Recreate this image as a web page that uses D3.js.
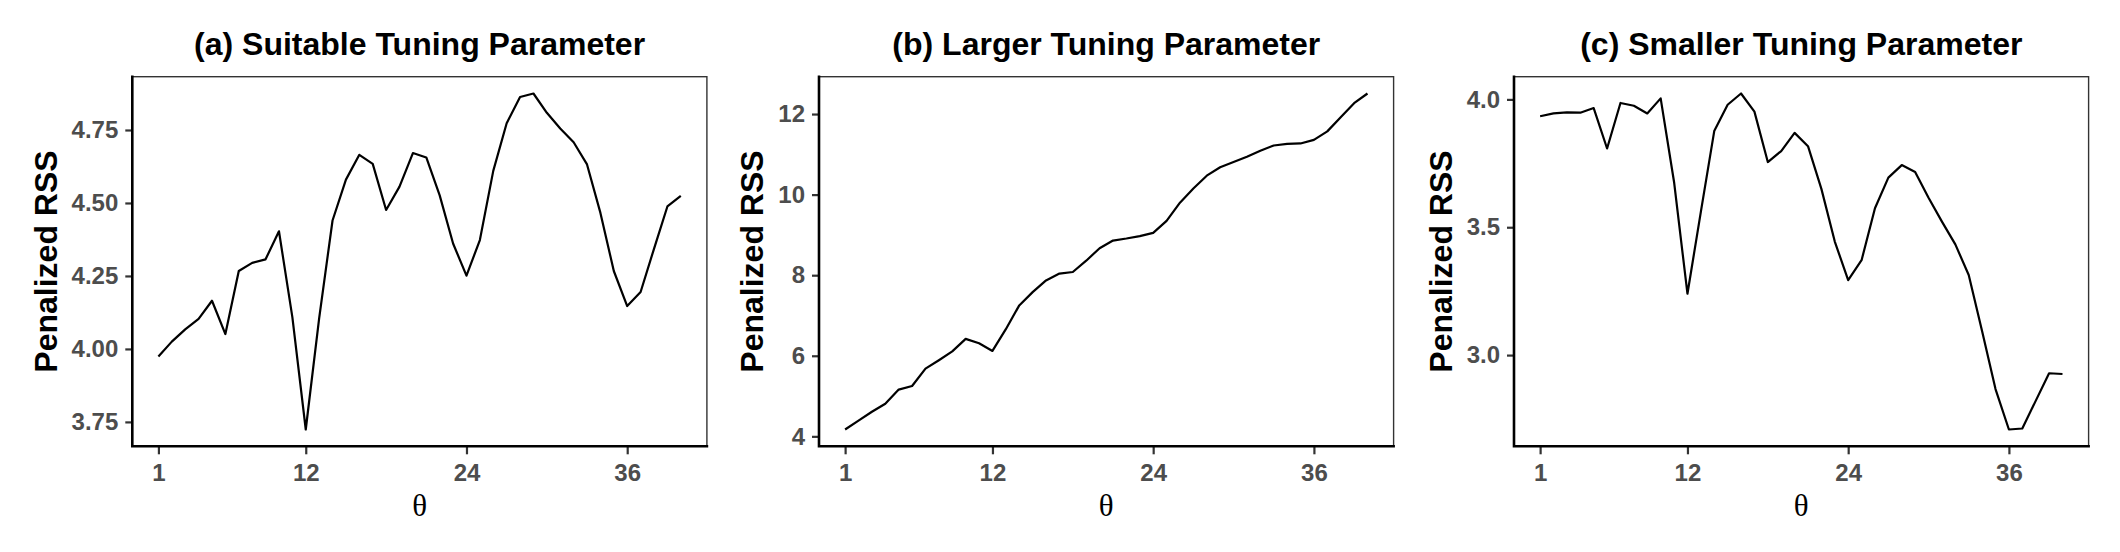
<!DOCTYPE html>
<html>
<head>
<meta charset="utf-8">
<script src="https://cdn.jsdelivr.net/npm/d3@7"></script>
<style>
  html, body { margin: 0; padding: 0; background: #fff; }
  svg { display: block; }
</style>
</head>
<body>
<svg id="chart" width="2120" height="552"></svg>
<script>
// ---- data ----
const theta = [1,2,3,4,5,6,7,8,9,10,11,12,13,14,15,16,17,18,19,20,
               21,22,23,24,25,26,27,28,29,30,31,32,33,34,35,36,37,38,39,40];
const rssSuitable = [3.974,4.025,4.067,4.103,4.165,4.051,4.267,4.295,4.307,4.403,
                     4.109,3.724,4.105,4.440,4.580,4.665,4.634,4.476,4.556,4.671,
                     4.656,4.526,4.361,4.251,4.373,4.610,4.773,4.863,4.875,4.809,
                     4.755,4.708,4.632,4.466,4.267,4.147,4.195,4.343,4.488,4.524];
const rssLarger = [4.17,4.39,4.61,4.81,5.16,5.25,5.68,5.89,6.11,6.42,
                   6.31,6.12,6.66,7.25,7.58,7.87,8.04,8.08,8.36,8.67,
                   8.86,8.91,8.97,9.05,9.35,9.80,10.15,10.47,10.68,10.81,
                   10.94,11.09,11.22,11.26,11.27,11.36,11.57,11.92,12.27,12.51];
const rssSmaller = [3.934,3.945,3.949,3.948,3.966,3.808,3.986,3.975,3.945,4.004,
                    3.677,3.240,3.560,3.876,3.979,4.023,3.952,3.755,3.798,3.869,
                    3.817,3.650,3.444,3.293,3.371,3.574,3.694,3.743,3.716,3.615,
                    3.522,3.433,3.313,3.093,2.867,2.709,2.713,2.821,2.929,2.926];
const xTicks = [1,12,24,36];
const yTicksA = [3.75,4.00,4.25,4.50,4.75];
const yTicksB = [4,6,8,10,12];
const yTicksC = [3.0,3.5,4.0];
const titles = ["(a) Suitable Tuning Parameter","(b) Larger Tuning Parameter","(c) Smaller Tuning Parameter"];
const yLabel = "Penalized RSS";
const xLabel = "θ";

// ---- layout ----
const panels = [
  {left: 132.3, values: rssSuitable, ticks: yTicksA, fmt: d3.format(".2f"), title: titles[0]},
  {left: 819.0, values: rssLarger,   ticks: yTicksB, fmt: d3.format("d"),   title: titles[1]},
  {left: 1514.0, values: rssSmaller, ticks: yTicksC, fmt: d3.format(".1f"), title: titles[2]}
];
const pw = 574.6, topY = 76.7, bottomY = 446.3;

const svg = d3.select("#chart");

function expand(ext, f) { const s = ext[1] - ext[0]; return [ext[0] - s * f, ext[1] + s * f]; }

panels.forEach(p => {
  const g = svg.append("g");
  const x = d3.scaleLinear().domain(expand(d3.extent(theta), 0.05)).range([p.left, p.left + pw]);
  const y = d3.scaleLinear().domain(expand(d3.extent(p.values), 0.05)).range([bottomY, topY]);

  // panel border (thin)
  g.append("rect")
    .attr("x", p.left).attr("y", topY)
    .attr("width", pw).attr("height", bottomY - topY)
    .attr("fill", "none").attr("stroke", "#333").attr("stroke-width", 1.4);

  // line
  const line = d3.line().x((d, i) => x(theta[i])).y(d => y(d));
  g.append("path").datum(p.values)
    .attr("d", line).attr("fill", "none")
    .attr("stroke", "#000").attr("stroke-width", 2.2)
    .attr("stroke-linejoin", "round");

  // y axis
  const yAxis = g.append("g").attr("transform", `translate(${p.left},0)`)
    .call(d3.axisLeft(y).tickValues(p.ticks).tickFormat(p.fmt).tickSize(7).tickPadding(7));
  yAxis.select(".domain").remove();
  yAxis.selectAll(".tick line").attr("stroke", "#333").attr("stroke-width", 2.2);
  yAxis.selectAll(".tick text")
    .attr("fill", "#4D4D4D").attr("font-family", "Liberation Sans, Arial, sans-serif")
    .attr("font-weight", "bold").attr("font-size", 24);

  // x axis
  const xAxis = g.append("g").attr("transform", `translate(0,${bottomY})`)
    .call(d3.axisBottom(x).tickValues(xTicks).tickFormat(d3.format("d")).tickSize(8).tickPadding(10));
  xAxis.select(".domain").remove();
  xAxis.selectAll(".tick line").attr("stroke", "#333").attr("stroke-width", 2.2);
  xAxis.selectAll(".tick text")
    .attr("fill", "#4D4D4D").attr("font-family", "Liberation Sans, Arial, sans-serif")
    .attr("font-weight", "bold").attr("font-size", 24);

  // thick axis lines (left + bottom)
  g.append("path")
    .attr("d", `M${p.left},${topY} V${bottomY} H${p.left + pw}`)
    .attr("fill", "none").attr("stroke", "#000").attr("stroke-width", 2.6)
    .attr("stroke-linecap", "square");

  // y label positioned left of tick labels
  let minX = p.left;
  yAxis.selectAll(".tick text").each(function() {
    const b = this.getBBox();
    minX = Math.min(minX, p.left + b.x);
  });
  const ylx = minX - 15;
  g.append("text")
    .attr("transform", `translate(${ylx},${(topY + bottomY) / 2}) rotate(-90)`)
    .attr("text-anchor", "middle")
    .attr("font-family", "Liberation Sans, Arial, sans-serif")
    .attr("font-weight", "bold").attr("font-size", 32).attr("fill", "#000")
    .text(yLabel);

  // x label
  g.append("text")
    .attr("x", p.left + pw / 2).attr("y", 516)
    .attr("text-anchor", "middle")
    .attr("font-family", "Liberation Serif, Times New Roman, serif")
    .attr("font-size", 31).attr("fill", "#000")
    .text(xLabel);

  // title
  g.append("text")
    .attr("x", p.left + pw / 2).attr("y", 54.5)
    .attr("text-anchor", "middle")
    .attr("font-family", "Liberation Sans, Arial, sans-serif")
    .attr("font-weight", "bold").attr("font-size", 32).attr("fill", "#000")
    .text(p.title);
});
</script>
</body>
</html>
